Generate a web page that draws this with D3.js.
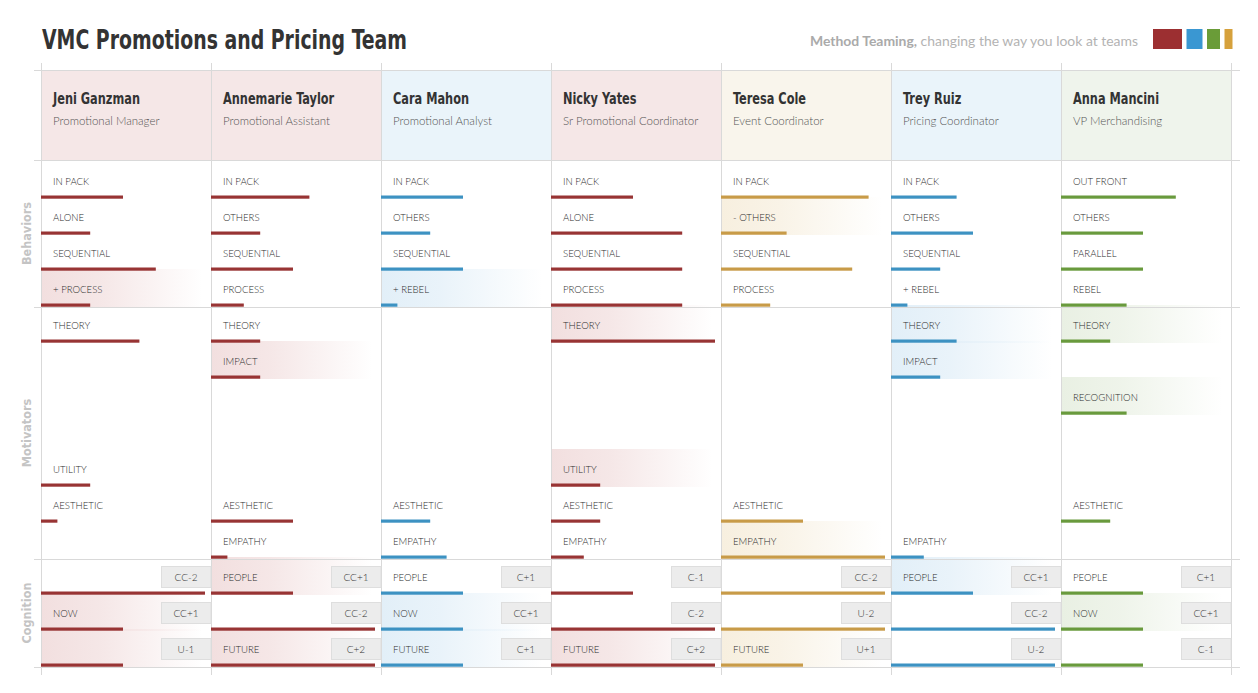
<!DOCTYPE html>
<html><head><meta charset="utf-8">
<script src="https://cdn.jsdelivr.net/npm/d3@7"></script>
<style>body{margin:0;background:#fff}svg{display:block}</style>
</head><body>
<svg id="chart" width="1258" height="693"></svg>
<script>
// ---------------- DATA ----------------
const title = "VMC Promotions and Pricing Team";
const taglineBold = "Method Teaming,";
const taglineRest = " changing the way you look at teams";
const people = ["Jeni Ganzman","Annemarie Taylor","Cara Mahon","Nicky Yates","Teresa Cole","Trey Ruiz","Anna Mancini"];
const roles = ["Promotional Manager","Promotional Assistant","Promotional Analyst","Sr Promotional Coordinator","Event Coordinator","Pricing Coordinator","VP Merchandising"];
const groups = ["Red","Red","Blue","Red","Gold","Blue","Green"];
const legendGroups = ["Red","Blue","Green","Gold"];
const sections = ["Behaviors","Motivators","Cognition"];

const behaviorLabels = [
  ["IN PACK","ALONE","SEQUENTIAL","+ PROCESS"],
  ["IN PACK","OTHERS","SEQUENTIAL","PROCESS"],
  ["IN PACK","OTHERS","SEQUENTIAL","+ REBEL"],
  ["IN PACK","ALONE","SEQUENTIAL","PROCESS"],
  ["IN PACK","- OTHERS","SEQUENTIAL","PROCESS"],
  ["IN PACK","OTHERS","SEQUENTIAL","+ REBEL"],
  ["OUT FRONT","OTHERS","PARALLEL","REBEL"]
];
const behaviorValues = [
  [5,3,7,3],[6,3,5,2],[5,3,5,1],[5,8,8,8],[9,4,8,3],[4,5,3,1],[7,5,5,4]
];
const behaviorHighlight = [
  [0,0,0,1],[0,0,0,0],[0,0,0,1],[0,0,0,0],[0,1,0,0],[0,0,0,0],[0,0,0,0]
];

const motivatorLabels = ["THEORY","IMPACT","RECOGNITION","","UTILITY","AESTHETIC","EMPATHY"];
const motivatorValues = [
  [6,null,null,null,3,1,null],
  [3,3,null,null,null,5,1],
  [null,null,null,null,null,3,4],
  [10,null,null,null,3,3,2],
  [null,null,null,null,null,5,10],
  [4,3,null,null,null,null,2],
  [3,null,4,null,null,3,null]
];
const motivatorHighlight = [
  [0,0,0,0,0,0,0],
  [0,1,0,0,0,0,0],
  [0,0,0,0,0,0,0],
  [1,0,0,0,1,0,0],
  [0,0,0,0,0,0,1],
  [1,1,0,0,0,0,0],
  [1,0,1,0,0,0,0]
];

const cognitionLabels = [
  ["","NOW",""],["PEOPLE","","FUTURE"],["PEOPLE","NOW","FUTURE"],["","","FUTURE"],
  ["","","FUTURE"],["PEOPLE","",""],["PEOPLE","NOW",""]
];
const cognitionValues = [
  [10,5,5],[5,10,10],[5,5,5],[5,10,10],[10,10,5],[5,10,10],[5,5,5]
];
const cognitionCodes = [
  ["CC-2","CC+1","U-1"],["CC+1","CC-2","C+2"],["C+1","CC+1","C+1"],["C-1","C-2","C+2"],
  ["CC-2","U-2","U+1"],["CC+1","CC-2","U-2"],["C+1","CC+1","C-1"]
];
const cognitionHighlight = [
  [0,1,1],[1,0,1],[0,1,1],[0,0,1],[0,0,1],[1,0,0],[0,1,0]
];
const valueMax = 10;

// ---------------- STYLE ----------------
const barColor = d3.scaleOrdinal().domain(legendGroups).range(["#983434","#3d92c2","#699a3d","#c89b48"]);
const legendColor = d3.scaleOrdinal().domain(legendGroups).range(["#9c2f31","#3a97d2","#6a9c38","#d6a13c"]);
const tintColor = d3.scaleOrdinal().domain(legendGroups).range(["#f5e7e7","#eaf4fa","#eff4ec","#f9f5ec"]);
const hiColor = d3.scaleOrdinal().domain(legendGroups).range(["#f2dfdf","#e2eff8","#e9f0e3","#f7efdf"]);
const legendW = {Red:29, Blue:16, Green:13, Gold:8};
const condensed = "'Liberation Sans Narrow','DejaVu Sans Condensed','Roboto Condensed',sans-serif";
const bodyFont = "Lato,'Open Sans',sans-serif";
const gridColor = "#d9d9d9";

// ---------------- DRAW ----------------
const svg = d3.select("#chart");
const x = d3.scaleBand().domain(people).range([41,1231]);
const len = d3.scaleLinear().domain([0,valueMax]).range([0,164]);
const y = d3.scaleBand().domain(d3.range(14)).range([161,665]);
const bottom = k => y(k) + y.bandwidth();

// gradients
const defs = svg.append("defs");
legendGroups.forEach(g=>{
  const lg = defs.append("linearGradient").attr("id","hi"+g).attr("x1","0").attr("x2","1").attr("y1","0").attr("y2","0");
  lg.append("stop").attr("offset","0").attr("stop-color",hiColor(g)).attr("stop-opacity",1);
  lg.append("stop").attr("offset","0.35").attr("stop-color",hiColor(g)).attr("stop-opacity",0.75);
  lg.append("stop").attr("offset","0.95").attr("stop-color",hiColor(g)).attr("stop-opacity",0);
});

// build row records
const rows = [];
people.forEach((p,i)=>{
  behaviorLabels[i].forEach((l,j)=>rows.push({p,i,k:j,label:l,value:behaviorValues[i][j],hi:behaviorHighlight[i][j]}));
  motivatorLabels.forEach((l,j)=>{
    if(motivatorValues[i][j]!==null) rows.push({p,i,k:4+j,label:l,value:motivatorValues[i][j],hi:motivatorHighlight[i][j]});
  });
  cognitionLabels[i].forEach((l,j)=>rows.push({p,i,k:11+j,label:l,value:cognitionValues[i][j],hi:cognitionHighlight[i][j],code:cognitionCodes[i][j]}));
});

// header backgrounds
svg.append("g").selectAll("rect").data(people).join("rect")
  .attr("x",d=>x(d)).attr("y",70).attr("width",x.bandwidth()).attr("height",90)
  .attr("fill",(d,i)=>tintColor(groups[i]));

// highlights
svg.append("g").selectAll("rect").data(rows.filter(r=>r.hi)).join("rect")
  .attr("x",d=>x(d.p)).attr("y",d=>y(d.k)).attr("width",x.bandwidth()).attr("height",y.bandwidth()+2)
  .attr("fill",d=>`url(#hi${groups[d.i]})`);

// grid lines
const hLines = [70,160,bottom(3)+2,bottom(10)+2,bottom(13)+2];
svg.append("g").selectAll("line").data(hLines).join("line")
  .attr("x1",34).attr("x2",1240).attr("y1",d=>d+0.5).attr("y2",d=>d+0.5)
  .attr("stroke",gridColor).attr("stroke-width",1);
const vLines = people.map(p=>x(p)).concat([x(people[people.length-1])+x.bandwidth()]);
svg.append("g").selectAll("line").data(vLines).join("line")
  .attr("x1",d=>d+0.5).attr("x2",d=>d+0.5).attr("y1",63).attr("y2",675)
  .attr("stroke",gridColor).attr("stroke-width",1);

// title
svg.append("text").attr("x",42).attr("y",49).text(title)
  .attr("font-family",condensed).attr("font-weight","bold").attr("font-size",26)
  .attr("fill","#333").attr("textLength",365).attr("lengthAdjust","spacingAndGlyphs");

// tagline
const tg = svg.append("text").attr("x",1138).attr("y",45.5).attr("text-anchor","end")
  .attr("font-family",bodyFont).attr("font-size",14).attr("fill","#b3b3b3")
  .attr("textLength",328).attr("lengthAdjust","spacingAndGlyphs");
tg.append("tspan").attr("font-weight","bold").attr("fill","#aaaaaa").text(taglineBold);
tg.append("tspan").text(taglineRest);

// legend
let lx = 1153;
legendGroups.forEach(g=>{
  svg.append("rect").attr("x",lx).attr("y",29).attr("width",legendW[g]).attr("height",20).attr("fill",legendColor(g));
  lx += legendW[g]+4.5;
});

// names & roles
const names = svg.append("g").selectAll("text").data(people).join("text")
  .attr("x",d=>x(d)+12).attr("y",104).text(d=>d)
  .attr("font-family",condensed).attr("font-weight","bold").attr("font-size",15).attr("fill","#333");
names.each(function(){
  const w = this.getComputedTextLength();
  d3.select(this).attr("textLength",w*0.84).attr("lengthAdjust","spacingAndGlyphs");
});
svg.append("g").selectAll("text").data(roles).join("text")
  .attr("x",(d,i)=>x(people[i])+12).attr("y",124.5).text(d=>d)
  .attr("font-family",bodyFont).attr("font-weight",300).attr("font-size",11.5).attr("fill","#555");

// section labels
const secCenters = [(160+hLines[2])/2,(hLines[2]+hLines[3])/2,(hLines[3]+hLines[4])/2];
svg.append("g").selectAll("text").data(sections).join("text")
  .attr("transform",(d,i)=>`translate(30.5,${secCenters[i]}) rotate(-90)`)
  .attr("text-anchor","middle").text(d=>d)
  .attr("font-family",condensed).attr("font-weight","bold").attr("font-size",12.5).attr("fill","#c4c4c4");

// badges
const badgeRows = rows.filter(r=>r.code);
svg.append("g").selectAll("rect").data(badgeRows).join("rect")
  .attr("x",d=>x(d.p)+x.bandwidth()-50+0.5).attr("y",d=>y(d.k)+9.5)
  .attr("width",49.5).attr("height",21)
  .attr("fill","#ececec").attr("stroke","#dedede").attr("stroke-width",1);
svg.append("g").selectAll("text").data(badgeRows).join("text")
  .attr("x",d=>x(d.p)+x.bandwidth()-25).attr("y",d=>y(d.k)+23.5)
  .attr("text-anchor","middle").text(d=>d.code)
  .attr("font-family",bodyFont).attr("font-weight",300).attr("font-size",10).attr("fill","#333");

// row labels
svg.append("g").selectAll("text").data(rows.filter(r=>r.label)).join("text")
  .attr("x",d=>x(d.p)+12).attr("y",d=>bottom(d.k)-12).text(d=>d.label)
  .attr("font-family",bodyFont).attr("font-weight",300).attr("font-size",9.6).attr("fill","#2e2e2e");

// bars
svg.append("g").selectAll("rect").data(rows).join("rect")
  .attr("x",d=>x(d.p)).attr("y",d=>bottom(d.k)-1.5)
  .attr("width",d=>len(d.value)).attr("height",3.2)
  .attr("fill",d=>barColor(groups[d.i]));
</script>
</body></html>
